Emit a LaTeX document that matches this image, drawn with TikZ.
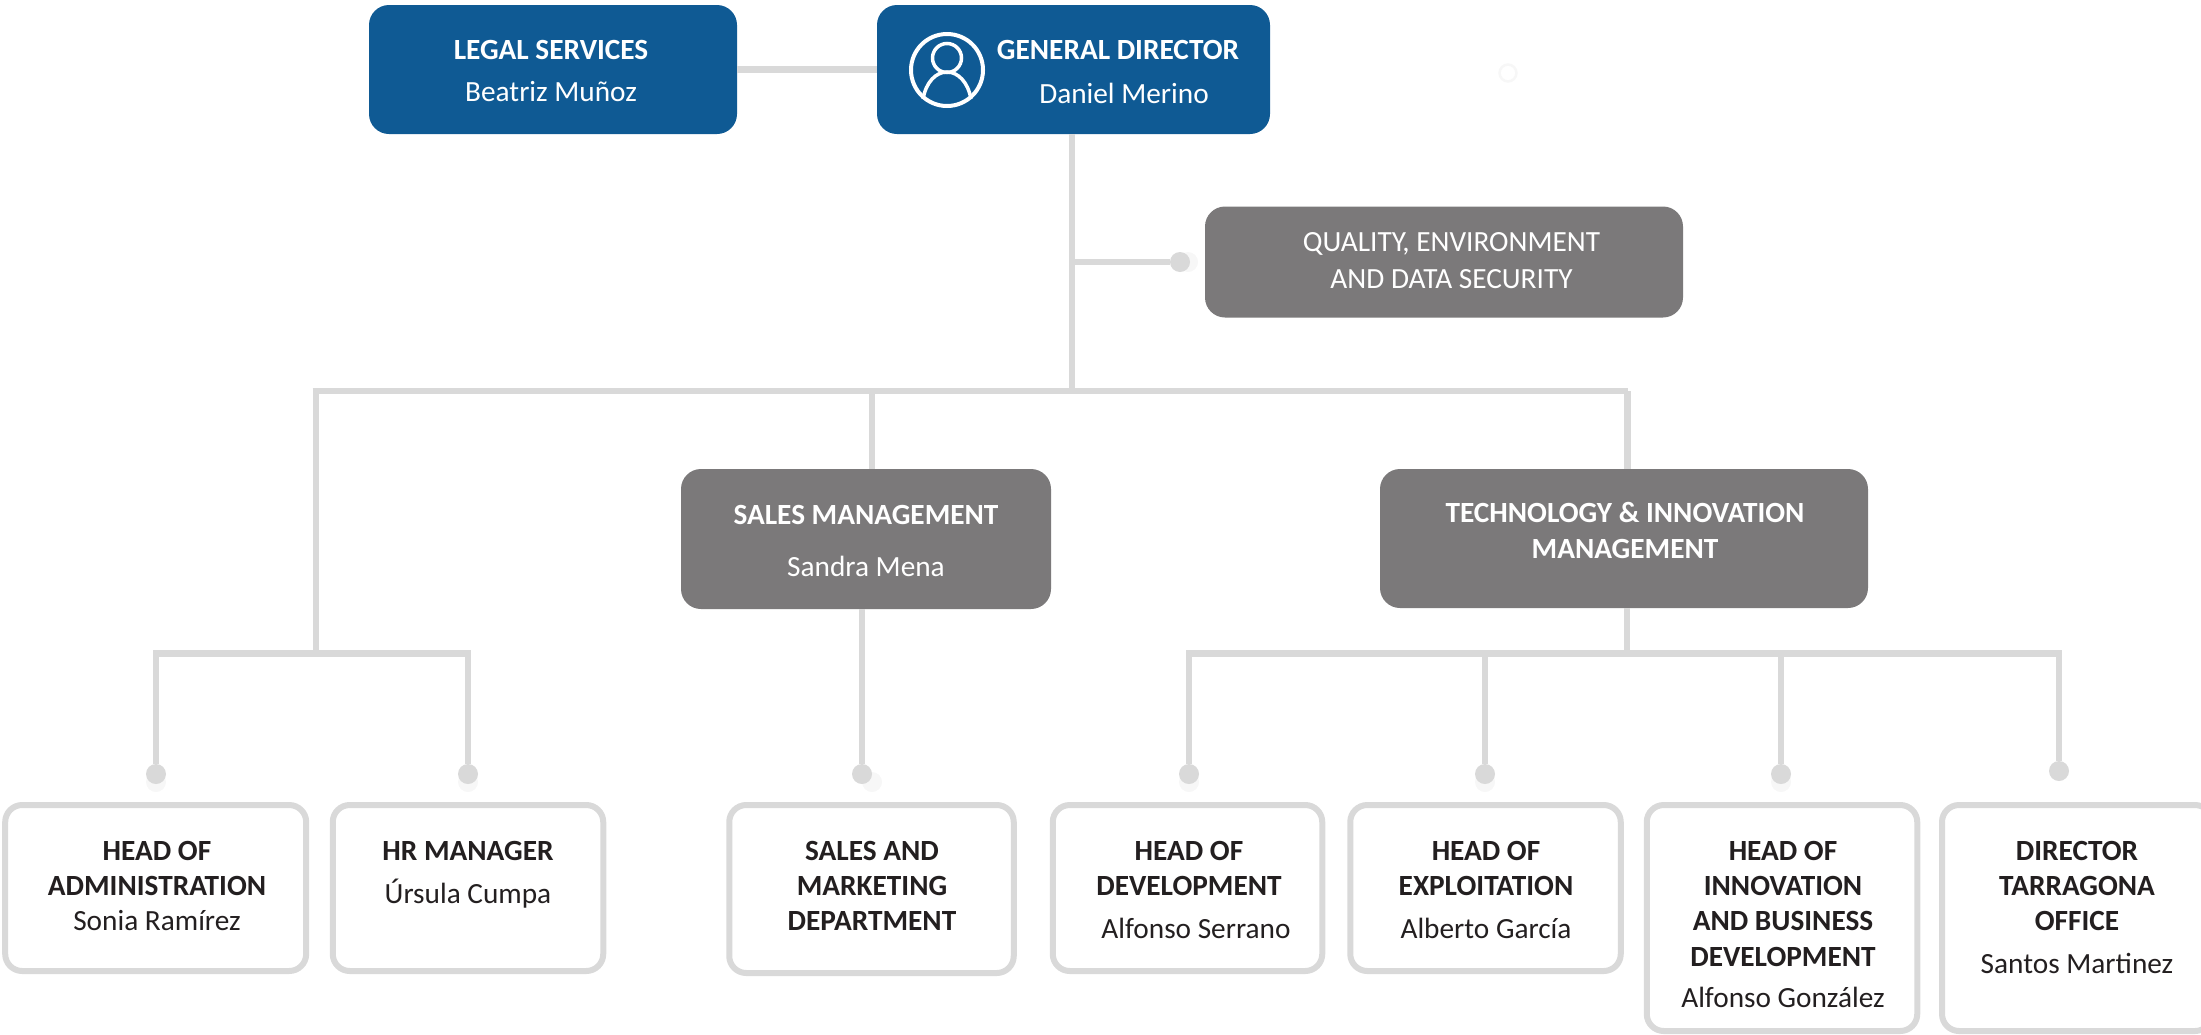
\documentclass[tikz,border=0pt]{standalone}
\usepackage{fontspec}
\setmainfont{Carlito}
\usetikzlibrary{calc}
\definecolor{blueBox}{HTML}{0F5A94}
\definecolor{greyBox}{HTML}{7B797A}
\definecolor{lineGrey}{HTML}{D9D9D9}
\definecolor{ghost}{HTML}{F7F7F7}
\definecolor{ink}{HTML}{231F20}
\tikzset{
  bluebox/.style={draw=none,fill=blueBox,rounded corners=20pt,inner sep=0pt,outer sep=0pt},
  greybox/.style={draw=none,fill=greyBox,rounded corners=20pt,inner sep=0pt,outer sep=0pt},
  whitebox/.style={draw=lineGrey,line width=6pt,fill=white,rounded corners=17pt,inner sep=0pt,outer sep=0pt},
  conn/.style={draw=lineGrey,line width=6.6pt},
  dotend/.style={circle,fill=lineGrey,draw=none,minimum size=20pt,inner sep=0pt,outer sep=0pt},
  ghostring/.style={circle,draw=ghost,line width=2.5pt,minimum size=17pt,inner sep=0pt,fill=white},
  ghostdot/.style={circle,fill=ghost,draw=none,minimum size=20pt,inner sep=0pt},
  txt/.style={anchor=north,align=center,inner sep=0pt,outer sep=0pt,
    font=\fontsize{29.3}{35.3}\selectfont},
  lightTxt/.style={txt,text=white},
  darkTxt/.style={txt,text=ink},
}
\newcommand{\bft}[1]{\textbf{#1}}
\begin{document}
\begin{tikzpicture}[x=1pt,y=-1pt]
\useasboundingbox (0,0) rectangle (2201,1034);
% boxes
\node[bluebox,minimum width=368pt,minimum height=129pt] (legal) at (553,69.5) {};
\node[bluebox,minimum width=393pt,minimum height=129pt] (general) at (1073.5,69.5) {};
\node[greybox,minimum width=478pt,minimum height=111pt] (quality) at (1444,262) {};
\node[greybox,minimum width=370pt,minimum height=140pt] (sales) at (866,539) {};
\node[greybox,minimum width=488pt,minimum height=139pt] (tech) at (1624,538.5) {};
\node[whitebox,minimum width=301pt,minimum height=166pt] (admin) at (155.7,888) {};
\node[whitebox,minimum width=270.5pt,minimum height=166pt] (hr) at (468,888) {};
\node[whitebox,minimum width=284.5pt,minimum height=168pt] (salesdept) at (871.5,889) {};
\node[whitebox,minimum width=269.5pt,minimum height=166pt] (dev) at (1187.5,888) {};
\node[whitebox,minimum width=270.5pt,minimum height=166pt] (exploit) at (1485.5,888) {};
\node[whitebox,minimum width=270.5pt,minimum height=226pt] (innov) at (1782,918) {};
\node[whitebox,minimum width=270pt,minimum height=226pt] (director) at (2077,918) {};
% junctions
\coordinate (hub) at (1072,391);
\coordinate (busL) at (316,391);
\coordinate (busS) at (872,391);
\coordinate (busT) at (1627.5,391);
\coordinate (qj) at (1072,262);
\coordinate (jL) at (316,653.7);
\coordinate (jLa) at (156,653.7);
\coordinate (jLb) at (468,653.7);
\coordinate (jT) at (1627,653.7);
\coordinate (jTa) at (1189,653.7);
\coordinate (jTd) at (2059,653.7);
\coordinate (jSo) at (862,609);
% ghost marks
\node[ghostring] (g0) at (1508,73) {};
\node[ghostdot] (g1) at (156,782) {};
\node[ghostdot] (g2) at (468,782) {};
\node[ghostdot] (g3) at (872,782) {};
\node[ghostdot] (g4) at (1189,782) {};
\node[ghostdot] (g5) at (1485,782) {};
\node[ghostdot] (g6) at (1781,782) {};
\node[ghostdot] (g7) at (1188,262) {};
% end dots
\node[dotend] (dq) at (1180,262) {};
\node[dotend] (d1) at (156,774) {};
\node[dotend] (d2) at (468,774) {};
\node[dotend] (d3) at (862,774) {};
\node[dotend] (d4) at (1189,774) {};
\node[dotend] (d5) at (1485,774) {};
\node[dotend] (d6) at (1781,774) {};
\node[dotend] (d7) at (2059,771) {};
% connectors
\draw[conn] (legal) -- (general);
\draw[conn] (general.south -| hub) -- (hub);
\draw[conn] ([xshift=-3.3pt]busL) -- (busT);
\draw[conn] (qj) -- (dq);
\draw[conn] (busS) -- (busS |- sales.north);
\draw[conn] (busT) -- (busT |- tech.north);
\draw[conn] (busL) -- (jL);
\draw[conn,line join=miter] (d1) -- (jLa) -- (jLb) -- (d2);
\draw[conn] (jSo) -- (d3);
\draw[conn] (jT |- tech.south) -- (jT);
\draw[conn,line join=miter] (d4) -- (jTa) -- (jTd) -- (d7);
\draw[conn] (d5) -- (d5 |- jT);
\draw[conn] (d6) -- (d6 |- jT);
% person icon
\node[circle,draw=white,line width=4pt,minimum size=72pt,inner sep=0pt] (icon) at (947,70) {};
\node[circle,draw=white,line width=3.5pt,minimum size=29pt,inner sep=0pt] (iconhead) at (947,58) {};
\draw[white,line width=3.5pt] (923,99) .. controls (926,82) and (936,72) .. (947,72) .. controls (958,72) and (968,82) .. (971,99);
% texts
\node[lightTxt] (t1) at (551,40) {\bft{LEGAL SERVICES}\\[7pt]Beatriz Muñoz};
\node[lightTxt] (t2) at (1118,40) {\bft{GENERAL DIRECTOR}\\[8.7pt]\hspace*{12pt}Daniel Merino};
\node[lightTxt] (t3) at (1451.5,232) {QUALITY, ENVIRONMENT\\[1.7pt]AND DATA SECURITY};
\node[lightTxt] (t4) at (866,505) {\bft{SALES MANAGEMENT}\\[16.7pt]Sandra Mena};
\node[lightTxt] (t5) at (1625,502.5) {\bft{TECHNOLOGY \& INNOVATION}\\[0pt]\bft{MANAGEMENT}};
\node[darkTxt] (t6) at (157,841) {\bft{HEAD OF}\\\bft{ADMINISTRATION}\\Sonia Ramírez};
\node[darkTxt] (t7) at (468,841) {\bft{HR MANAGER}\\[8.2pt]Úrsula Cumpa};
\node[darkTxt] (t8) at (872,841) {\bft{SALES AND}\\\bft{MARKETING}\\\bft{DEPARTMENT}};
\node[darkTxt] (t9) at (1189,841) {\bft{HEAD OF}\\\bft{DEVELOPMENT}\\[7.5pt]\hspace*{14pt}Alfonso Serrano};
\node[darkTxt] (t10) at (1486,841) {\bft{HEAD OF}\\\bft{EXPLOITATION}\\[7.5pt]Alberto García};
\node[darkTxt] (t11) at (1783,841) {\bft{HEAD OF}\\\bft{INNOVATION}\\\bft{AND BUSINESS}\\\bft{DEVELOPMENT}\\[6.5pt]Alfonso González};
\node[darkTxt] (t12) at (2077,841) {\bft{DIRECTOR}\\\bft{TARRAGONA}\\\bft{OFFICE}\\[7.5pt]Santos Martinez};
\end{tikzpicture}
\end{document}
